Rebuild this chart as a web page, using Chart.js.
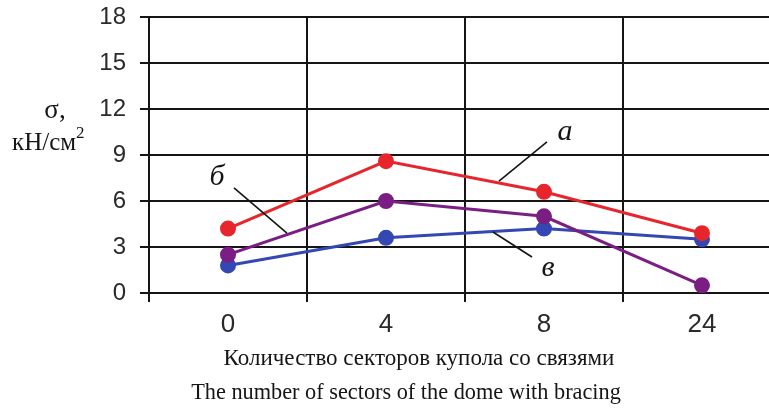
<!DOCTYPE html>
<html>
<head>
<meta charset="utf-8">
<script src="https://cdn.jsdelivr.net/npm/chart.js@4"></script>
<style>
  html, body { margin: 0; padding: 0; background: #fff; }
  #wrap { width: 769px; height: 410px; overflow: hidden; position: relative; }
  canvas { display: block; }
</style>
</head>
<body>
<div id="wrap"><canvas id="c" width="800" height="410"></canvas></div>
<script>
// Number of braced dome sectors
const sectors = ['0', '4', '8', '24'];
// Stress σ, kN/cm², for the three cases
const seriesA = [4.2, 8.6, 6.6, 3.9];
const seriesB = [2.5, 6.0, 5.0, 0.5];
const seriesV = [1.8, 3.6, 4.2, 3.5];
const yTicks = [0, 3, 6, 9, 12, 15, 18];

const RED = '#e6262c';
const PURPLE = '#7a1e83';
const BLUE = '#3447b2';
const INK = '#151515';
const TICK_INK = '#2a2a2a';

// Curve labels with leader lines, in data units (category index, σ)
const curveNotes = [
  { text: 'а', at: [2.133, 10.5], from: [2.019, 9.85], to: [1.715, 7.30] },
  { text: 'б', at: [-0.07, 7.57], from: [0.038, 6.85], to: [0.373, 3.91] },
  { text: 'в', at: [2.025, 1.63], from: [1.677, 3.98], to: [1.924, 2.35] }
];

const notesPlugin = {
  id: 'notes',
  afterDatasetsDraw(chart) {
    const { ctx, scales: { x, y } } = chart;
    ctx.save();
    ctx.strokeStyle = INK;
    ctx.lineWidth = 1.6;
    ctx.fillStyle = INK;
    ctx.font = 'italic 30px "Liberation Serif", serif';
    ctx.textAlign = 'center';
    ctx.textBaseline = 'middle';
    curveNotes.forEach(n => {
      ctx.beginPath();
      ctx.moveTo(x.getPixelForValue(n.from[0]), y.getPixelForValue(n.from[1]));
      ctx.lineTo(x.getPixelForValue(n.to[0]), y.getPixelForValue(n.to[1]));
      ctx.stroke();
      ctx.fillText(n.text, x.getPixelForValue(n.at[0]), y.getPixelForValue(n.at[1]));
    });
    ctx.restore();
  },
  afterDraw(chart) {
    const { ctx } = chart;
    ctx.save();
    ctx.fillStyle = INK;
    ctx.textBaseline = 'alphabetic';
    // title of the value axis
    ctx.font = '27px "Liberation Serif", serif';
    ctx.textAlign = 'center';
    ctx.fillText('σ,', 55, 118);
    ctx.textAlign = 'left';
    ctx.font = '25px "Liberation Serif", serif';
    const unit = 'кН/см';
    ctx.fillText(unit, 12, 150);
    const w = ctx.measureText(unit).width;
    ctx.font = '17px "Liberation Serif", serif';
    ctx.fillText('2', 12 + w, 138);
    // title of the category axis
    ctx.textAlign = 'center';
    ctx.font = '23px "Liberation Serif", serif';
    ctx.fillText('Количество секторов купола со связями', 419, 365);
    ctx.font = '22.3px "Liberation Serif", serif';
    ctx.fillText('The number of sectors of the dome with bracing', 406, 399);
    ctx.restore();
  }
};

const lineStyle = (c) => ({
  borderColor: c,
  backgroundColor: c,
  pointBackgroundColor: c,
  pointBorderColor: c,
  borderWidth: 3,
  pointRadius: 6.5,
  pointHoverRadius: 6.5,
  tension: 0
});

new Chart(document.getElementById('c'), {
  type: 'line',
  data: {
    labels: sectors,
    datasets: [
      { label: 'а', data: seriesA, ...lineStyle(RED) },
      { label: 'б', data: seriesB, ...lineStyle(PURPLE) },
      { label: 'в', data: seriesV, ...lineStyle(BLUE) }
    ]
  },
  options: {
    responsive: false,
    animation: false,
    events: [],
    layout: { padding: { top: 17, right: 19, bottom: 0, left: 0 } },
    plugins: { legend: { display: false }, tooltip: { enabled: false } },
    scales: {
      x: {
        type: 'category',
        offset: true,
        grid: { offset: true, color: INK, lineWidth: 2, tickLength: 9, drawTicks: true },
        border: { display: true, color: INK, width: 2 },
        ticks: { color: TICK_INK, font: { family: '"Liberation Sans", Arial, sans-serif', size: 26 }, padding: 7, maxRotation: 0 },
        afterFit(s) { s.height = 117; s.paddingLeft = 0; s.paddingRight = 0; }
      },
      y: {
        min: yTicks[0],
        max: yTicks[yTicks.length - 1],
        afterBuildTicks(s) { s.ticks = yTicks.map(v => ({ value: v })); },
        grid: { color: INK, lineWidth: 2, tickLength: 9, drawTicks: true },
        border: { display: true, color: INK, width: 2 },
        ticks: { color: TICK_INK, font: { family: '"Liberation Sans", Arial, sans-serif', size: 24 }, padding: 14 },
        afterFit(s) { s.width = 149; s.paddingTop = 0; s.paddingBottom = 0; }
      }
    }
  },
  plugins: [notesPlugin]
});
</script>
</body>
</html>
